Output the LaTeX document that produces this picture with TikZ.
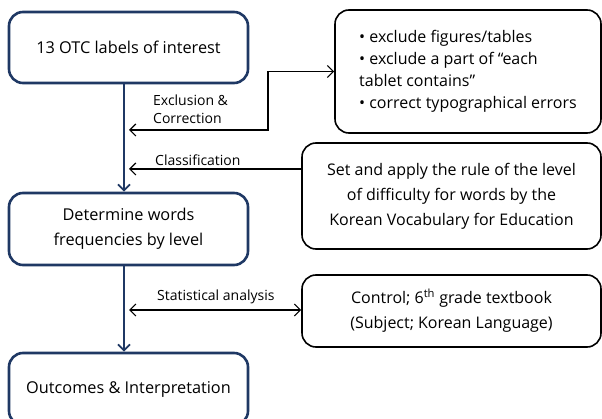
\documentclass[tikz,border=0pt]{standalone}
\usepackage{fontspec}
\setmainfont{Open Sans}
\usetikzlibrary{arrows.meta}
\definecolor{navy}{RGB}{31,56,100}
\tikzset{
  navybox/.style={draw=navy, line width=2.6pt, rounded corners=14pt, minimum width=239pt, inner sep=0pt, align=center, font=\fontsize{16.3}{25}\selectfont},
  blackbox/.style={draw=black, line width=1.6pt, rounded corners=14pt, inner sep=0pt, align=center, font=\fontsize{16}{25}\selectfont},
  spine/.style={draw=navy, line width=1.8pt, -{Straight Barb[length=6pt,width=12pt,line width=1.8pt]}},
  conn/.style={draw=black, line width=1.2pt},
  lbl/.style={font=\fontsize{14}{18}\selectfont, align=left, anchor=west, inner sep=0pt}
}
\begin{document}
\begin{tikzpicture}[x=1pt,y=-1pt]
\clip (0,0) rectangle (602,419);
\useasboundingbox (0,0) rectangle (602,419);
\node[navybox, minimum height=71pt] (b1) at (128.5,47.5) {13 OTC labels of interest};
\node[navybox, minimum height=72pt] (b2) at (128.5,229) {Determine words\\frequencies by level};
\node[navybox, minimum height=72pt] (b3) at (128.5,389) {Outcomes \& Interpretation};
\node[blackbox, minimum width=266pt, minimum height=123pt, align=left, font=\fontsize{16}{22}\selectfont] (r1) at (468,71.5) {• exclude figures/tables\\• exclude a part of “each\\tablet contains”\\• correct typographical errors};
\node[blackbox, minimum width=299pt, minimum height=106pt] (r2) at (451.5,196) {Set and apply the rule of the level\\of difficulty for words by the\\Korean Vocabulary for Education};
\node[blackbox, minimum width=299pt, minimum height=72pt] (r3) at (451.5,311) {Control; 6\textsuperscript{th} grade textbook\\(Subject; Korean Language)};
\coordinate (sx) at (124,0);
\coordinate (ex) at (268,0);
\coordinate (e1) at (129,130);
\coordinate (c1) at (129,169);
\coordinate (s1) at (129,310);
\draw[spine] (b1.south -| sx) -- (b2.north -| sx);
\draw[spine] (b2.south -| sx) -- (b3.north -| sx);
\draw[conn, {Straight Barb[length=6pt,width=12pt,line width=1.2pt]}-{Straight Barb[length=6pt,width=12pt,line width=1.2pt]}] (e1) -- (e1 -| ex) |- (r1.west);
\draw[conn, -{Straight Barb[length=6pt,width=12pt,line width=1.2pt]}] (c1 -| r2.west) -- (c1);
\draw[conn, {Straight Barb[length=6pt,width=12pt,line width=1.2pt]}-{Straight Barb[length=6pt,width=12pt,line width=1.2pt]}] (s1) -- (s1 -| r3.west);
\node[lbl] (l1) at (153,109) {Exclusion \&\\Correction};
\node[lbl] (l2) at (155,160) {Classification};
\node[lbl] (l3) at (157,297) {Statistical analysis};
\end{tikzpicture}
\end{document}
